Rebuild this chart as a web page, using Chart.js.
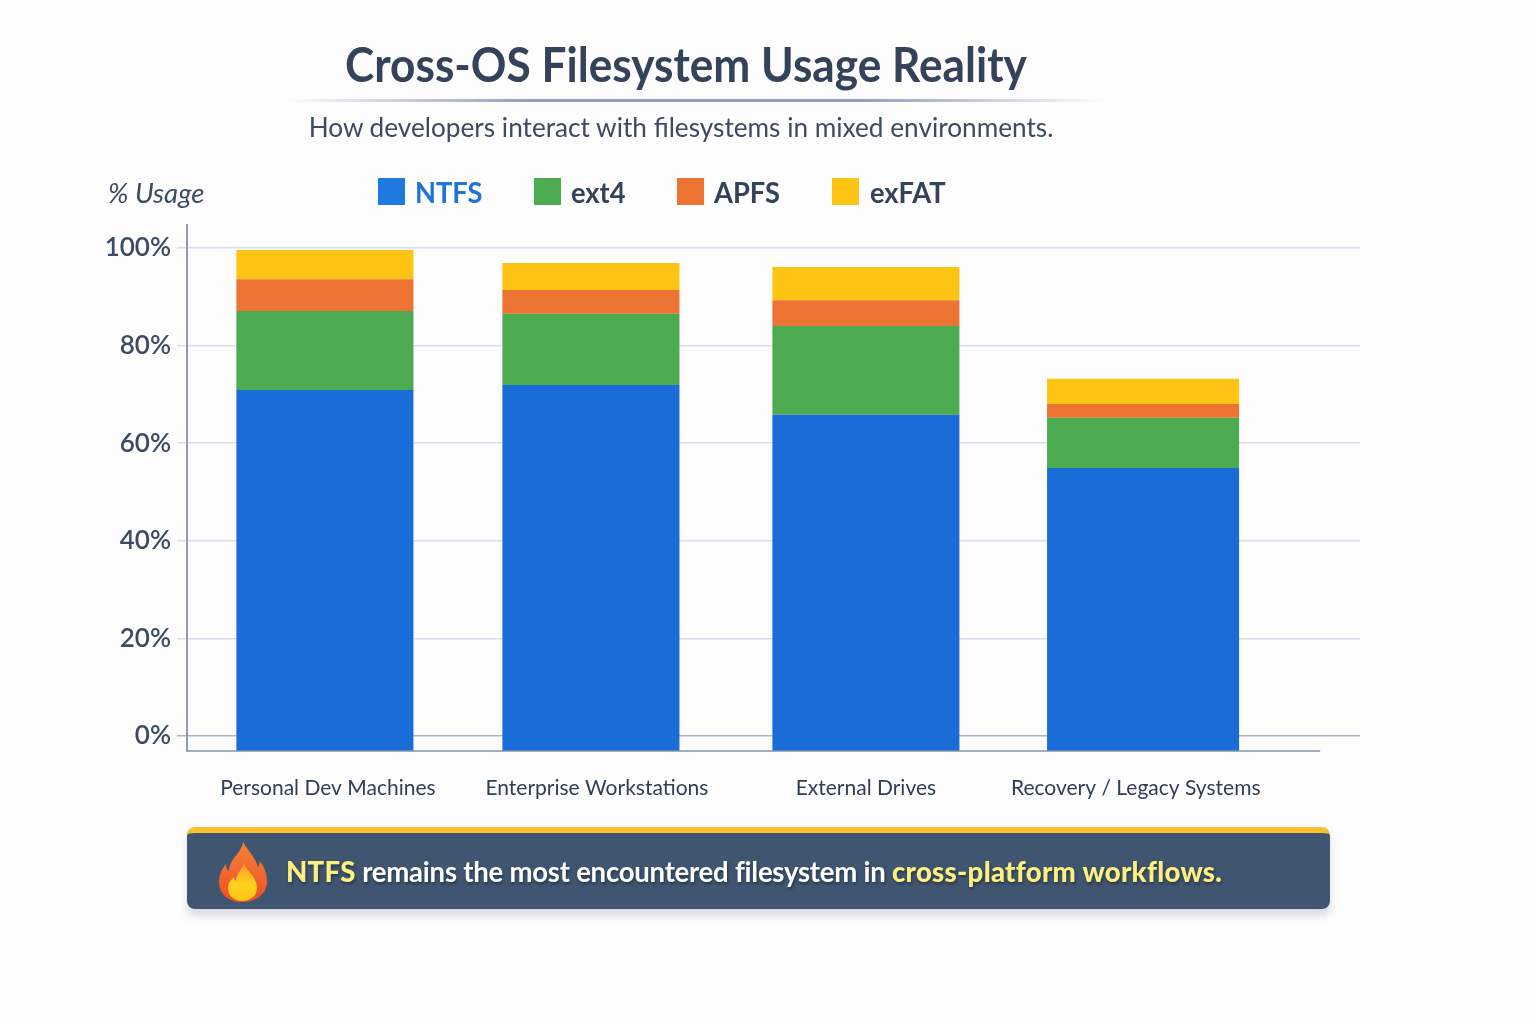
<!DOCTYPE html>
<html><head><meta charset="utf-8">
<script src="https://cdn.jsdelivr.net/npm/chart.js@4"></script>
<style>
html,body{margin:0;padding:0;background:#fdfdfe;width:1536px;height:1024px;overflow:hidden}
body{position:relative;font-family:"Lato",sans-serif;color:#34435a}
canvas{position:absolute;left:0;top:0}
.t{position:absolute;white-space:nowrap;line-height:1}
#title{left:686px;top:41px;transform:translateX(-50%) scaleX(.94);font-size:47px;font-weight:700;color:#34435a}
#rule{position:absolute;left:285px;top:99px;width:820px;height:3px;background:linear-gradient(90deg,rgba(140,150,176,0),#939db6 30%,#939db6 70%,rgba(140,150,176,0))}
#sub{left:681px;top:113px;transform:translateX(-50%) scaleX(.97);font-size:27px;color:#3d4a62}
#unit{left:108px;top:179px;font-size:27.5px;font-style:italic;color:#3d4a62}
.sw{position:absolute;top:178px;width:27px;height:27px}
.lg{top:177px;font-size:29px;font-weight:700;color:#34435a;transform:scaleX(.94);transform-origin:left center}
#band{position:absolute;left:187px;top:827px;width:1143px;height:82px;border-radius:8px;background:#3f5570;border-top:6px solid #fcbf2e;box-sizing:border-box;box-shadow:0 7px 8px rgba(90,100,130,.22)}
#msg{left:286px;top:856px;font-size:29px;font-weight:700;color:#fff;letter-spacing:-.26px;text-shadow:1px 2px 3px rgba(20,30,50,.55);transform:scaleX(.95);transform-origin:left center}
#msg b{color:#fdf07e;font-weight:900;letter-spacing:.3px}
#flame{position:absolute;left:216px;top:840px;width:53px;height:63px}
</style></head><body>
<canvas id="c" width="1536" height="1024"></canvas>
<div class="t" id="title">Cross-OS Filesystem Usage Reality</div>
<div id="rule"></div>
<div class="t" id="sub">How developers interact with filesystems in mixed environments.</div>
<div class="t" id="unit">% Usage</div>
<div id="legend"></div>
<div id="band"></div>
<svg id="flame" viewBox="0 0 53 63"><defs>
<linearGradient id="fo" x1="0" y1="0" x2="0" y2="1"><stop offset="0" stop-color="#f4823a"/><stop offset="1" stop-color="#ee4f24"/></linearGradient>
<linearGradient id="fi" x1="0" y1="0" x2="0" y2="1"><stop offset="0" stop-color="#fb9a2a"/><stop offset=".55" stop-color="#ffd21f"/><stop offset="1" stop-color="#ffc414"/></linearGradient></defs>
<path d="M27 2c5 9 12 14 15 25 1-2 2-4 2-6 5 7 7 14 7 21 0 12-11 20-25 20S3 54 3 42c0-6 2-12 7-18 0 3 1 6 3 7C13 19 25 14 27 2z" fill="url(#fo)"/>
<path d="M28 23c1 7 13 13 13 25 0 8-7 13-15 13S12 56 12 48c0-5 3-8 6-11 0 2 1 3 2 4 0-7 6-11 8-18z" fill="url(#fi)"/></svg>
<div class="t" id="msg"><b>NTFS</b> remains the most encountered filesystem in <b>cross-platform workflows.</b></div>
<script>
const categories=["Personal Dev Machines","Enterprise Workstations","External Drives","Recovery / Legacy Systems"];
const barCenters=[0.507,1.485,2.496,3.515];
const labelCenters=[0.518,1.507,2.496,3.488];
const barWidths=[0.651,0.651,0.6875,0.706];
const ntfs=[70.9,71.9,65.8,54.9];
const ext4=[16.2,14.6,18.2,10.3];
const apfs=[6.5,4.9,5.3,2.8];
const exfat=[6.0,5.5,6.8,5.2];
const seriesNames=["NTFS","ext4","APFS","exFAT"];
const seriesColors=["#1a6dd6","#4caa50","#ec7332","#fdc414"];
const legendColors=["#2079e0","#4caa50","#ec7332","#fdc414"];
const legendSwatchX=[378,534,677,832];
const legendTextX=[415,571,714,870];
const yTicks=[0,20,40,60,80,100];
const allSeries=[ntfs,ext4,apfs,exfat];
const xMax=4.3125, xAxisEnd=4.166, yMin=-3.07, yMax=104.7;

const lg=document.getElementById('legend');
seriesNames.forEach((n,i)=>{
  const s=document.createElement('div');s.className='sw';s.style.left=legendSwatchX[i]+'px';s.style.background=legendColors[i];lg.appendChild(s);
  const t=document.createElement('div');t.className='t lg';t.style.left=legendTextX[i]+'px';t.textContent=n;if(i===0)t.style.color='#1f72d6';lg.appendChild(t);
});

const barShape={id:'barShape',
  beforeDatasetsDraw(chart){
    const x=chart.scales.x;
    chart.getSortedVisibleDatasetMetas().forEach(m=>m.data.forEach((el,i)=>{
      el.width=x.getPixelForValue(barWidths[i])-x.getPixelForValue(0);
    }));
  },
  afterDatasetsDraw(chart){
    const {ctx,scales:{x},chartArea:a}=chart;
    ctx.save();ctx.strokeStyle='#8290a8';ctx.lineWidth=1.5;ctx.beginPath();
    ctx.moveTo(a.left,a.bottom);ctx.lineTo(x.getPixelForValue(xAxisEnd),a.bottom);ctx.stroke();ctx.restore();
  }};

new Chart(document.getElementById('c'),{
  type:'bar',
  data:{datasets:allSeries.map((v,i)=>({
    label:seriesNames[i],
    data:v.map((y,k)=>({x:barCenters[k],y})),
    backgroundColor:seriesColors[i],
    borderWidth:0,
    base:i===0?yMin:undefined
  }))},
  plugins:[barShape],
  options:{
    responsive:false,animation:false,devicePixelRatio:1,
    layout:{padding:{left:87,right:176,top:225,bottom:213}},
    plugins:{legend:{display:false},title:{display:false},tooltip:{enabled:false}},
    scales:{
      x:{type:'linear',stacked:true,offset:false,min:0,max:xMax,
        afterBuildTicks(s){s.ticks=labelCenters.map(value=>({value}));},
        afterFit(s){s.height=60;},
        grid:{display:false},border:{display:false},
        ticks:{autoSkip:false,maxRotation:0,padding:17,color:'#2f3d55',font:{family:'Lato',size:21},
          callback(v,i){return categories[i];}}},
      y:{stacked:true,min:yMin,max:yMax,
        afterBuildTicks(s){s.ticks=yTicks.map(value=>({value}));},
        afterFit(s){s.width=100;},
        grid:{color:c=>c.tick&&c.tick.value===0?'#a9b3c6':'#d6ddeb',lineWidth:1.5,tickLength:10},
        border:{color:'#8f9ab3',width:2},
        ticks:{padding:6,color:'#3d4a62',font:{family:'Lato',size:26,weight:'600'},
          callback:v=>v+'%'}}
    }
  }
});
</script>
</body></html>
